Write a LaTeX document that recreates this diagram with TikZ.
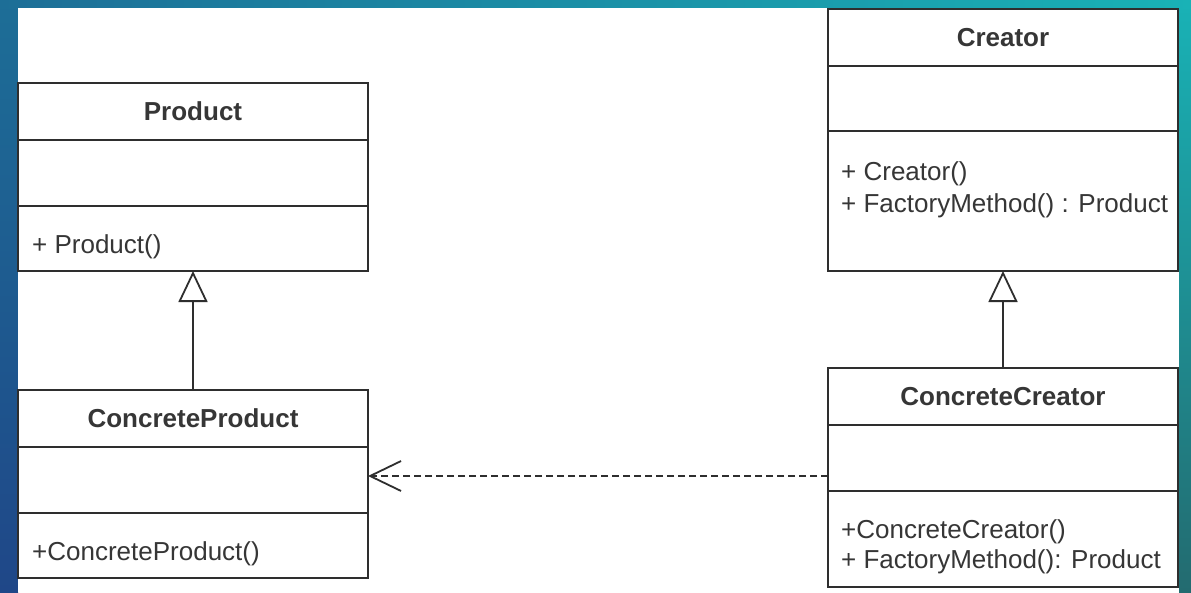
\documentclass[tikz,border=0pt]{standalone}
\usepackage{fontspec}
\setmainfont{Liberation Sans}
\usetikzlibrary{arrows.meta,calc}

\definecolor{bgTL}{HTML}{1D6E97}
\definecolor{bgTR}{HTML}{19B2B6}
\definecolor{bgBL}{HTML}{1F4788}
\definecolor{bgBR}{HTML}{236B70}
\definecolor{umlline}{HTML}{2E2E2E}
\definecolor{umltext}{HTML}{363636}

\tikzset{
  compartment/.style={draw=umlline, line width=1.8pt, fill=white,
    minimum width=350pt, inner sep=0pt, outer sep=0pt, anchor=north west},
  classname/.style={font=\fontsize{26pt}{31pt}\selectfont\bfseries,
    text=umltext, inner sep=0pt},
  member/.style={font=\fontsize{26pt}{31pt}\selectfont, text=umltext,
    inner sep=0pt, anchor=base west},
  inherit/.style={draw=umlline, line width=1.8pt,
    -{Triangle[open, length=31pt, width=29pt, line width=1.8pt]}},
  depend/.style={draw=umlline, line width=1.8pt, dash pattern=on 7pt off 4pt,
    -{Straight Barb[length=31pt, width=30pt, line width=1.8pt]}}
}

\begin{document}
\begin{tikzpicture}[x=1pt, y=-1pt]
\useasboundingbox (0,0) rectangle (1191,592);

% slide frame
\shade[top color=bgTL, bottom color=bgBL] (0,0) rectangle (18,592);
\shade[top color=bgTR, bottom color=bgBR] (1179,0) rectangle (1191,592);
\shade[left color=bgTL, right color=bgTR] (0,0) rectangle (1191,8);
\fill[white] (18,8) rectangle (1179,592);

% Product
\node[compartment, minimum height=57pt] (p-name) at (18,83) {};
\node[compartment, minimum height=66pt] (p-attr) at (18,140) {};
\node[compartment, minimum height=65pt] (p-ops)  at (18,206) {};
\node[classname] (p-title) at (p-name.center) {Product};
\node[member] (p-op1) at (32,253) {+ Product()};

% ConcreteProduct
\node[compartment, minimum height=57pt] (cp-name) at (18,390) {};
\node[compartment, minimum height=66pt] (cp-attr) at (18,447) {};
\node[compartment, minimum height=65pt] (cp-ops)  at (18,513) {};
\node[classname] (cp-title) at (cp-name.center) {ConcreteProduct};
\node[member] (cp-op1) at (32,560) {+ConcreteProduct()};

% Creator
\node[compartment, minimum height=57pt]  (c-name) at (828,9) {};
\node[compartment, minimum height=65pt]  (c-attr) at (828,66) {};
\node[compartment, minimum height=140pt] (c-ops)  at (828,131) {};
\node[classname] (c-title) at (c-name.center) {Creator};
\node[member] (c-op1) at (841,180) {+ Creator()};
\node[member] (c-op2) at (841,212) {+ FactoryMethod() : Product};

% ConcreteCreator
\node[compartment, minimum height=57pt] (cc-name) at (828,368) {};
\node[compartment, minimum height=66pt] (cc-attr) at (828,425) {};
\node[compartment, minimum height=96pt] (cc-ops)  at (828,491) {};
\node[classname] (cc-title) at (cc-name.center) {ConcreteCreator};
\node[member] (cc-op1) at (841,538) {+ConcreteCreator()};
\node[member] (cc-op2) at (841,568) {+ FactoryMethod(): Product};

% relations
\draw[inherit] (cp-name.north) -- (p-ops.south);
\draw[inherit] (cc-name.north) -- (c-ops.south);
\draw[depend] ($(cc-attr.west |- cp-attr.east)+(0,-4)$) -- ($(cp-attr.east)+(0,-4)$);
\end{tikzpicture}
\end{document}
